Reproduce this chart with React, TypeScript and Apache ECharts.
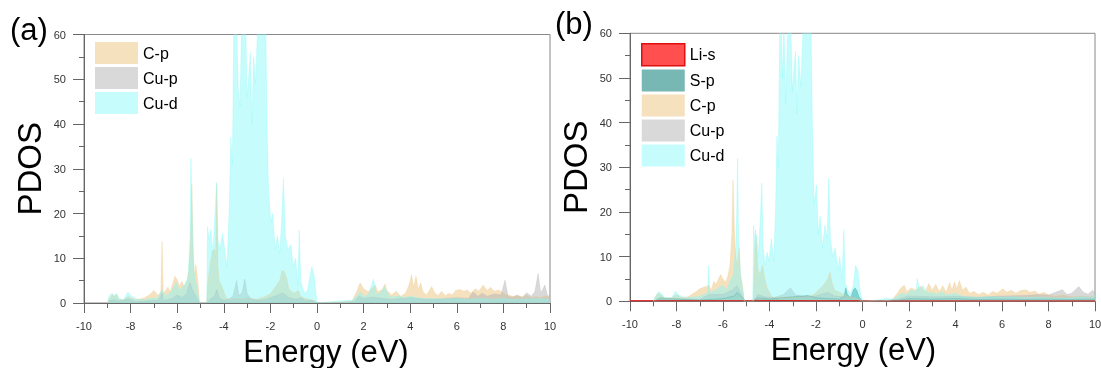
import React, { useEffect, useRef } from "react";
import * as echarts from "echarts";

// [energy (eV), PDOS] pairs
const aCp: number[][] = [
  [-9, 0], [-8.9, 1.0], [-8.8, 1.8], [-8.7, 1.5], [-8.6, 1.9], [-8.5, 0.8], [-8.3, 0.6], [-8.1, 1.5], [-8.0, 1.2],
  [-7.8, 0.8], [-7.6, 0.9], [-7.4, 1.2], [-7.2, 1.8], [-7.0, 2.8], [-6.9, 2.2], [-6.8, 1.6], [-6.7, 2.5], [-6.65, 13.8],
  [-6.6, 2.0], [-6.5, 2.8], [-6.4, 3.5], [-6.3, 2.5], [-6.2, 4.2], [-6.1, 6.0], [-6.0, 5.2], [-5.9, 3.8], [-5.8, 4.8],
  [-5.7, 3.6], [-5.6, 4.5], [-5.5, 7.0], [-5.42, 15], [-5.37, 26.5], [-5.31, 10], [-5.25, 6], [-5.2, 8.6], [-5.1, 4],
  [-5.04, 0], [-4.73, 0], [-4.7, 4], [-4.6, 8], [-4.5, 11.5], [-4.4, 12], [-4.35, 10], [-4.3, 26.5], [-4.25, 8],
  [-4.2, 5], [-4.1, 4], [-4.0, 2.5], [-3.9, 1.2], [-3.8, 0.8], [-3.5, 1.0], [-3.2, 0.9], [-3.0, 1.2], [-2.6, 0.8],
  [-2.2, 1.5], [-2.0, 2], [-1.8, 3.5], [-1.6, 5], [-1.5, 7.2], [-1.4, 7.0], [-1.3, 5.5], [-1.2, 3], [-1.0, 2.2],
  [-0.8, 2.8], [-0.7, 1.5], [-0.5, 1], [-0.3, 0.8], [-0.1, 0.5], [0, 0], [0.5, 0.1], [1.0, 0.2], [1.5, 0.4],
  [1.7, 2.5], [1.85, 4.5], [2.0, 3.2], [2.2, 2.5], [2.4, 3.5], [2.5, 4.0], [2.6, 2.5], [2.8, 3.0], [2.92, 4.3],
  [3.0, 2.8], [3.2, 1.8], [3.4, 2.6], [3.6, 1.5], [3.8, 2.2], [3.95, 4.0], [4.06, 6.3], [4.15, 3.5], [4.25, 6.0],
  [4.35, 3.0], [4.45, 4.5], [4.55, 2.5], [4.7, 1.8], [4.92, 3.7], [5.05, 2.3], [5.2, 1.7], [5.35, 2.6], [5.5, 1.6],
  [5.65, 2.2], [5.8, 1.8], [5.95, 2.8], [6.14, 3.0], [6.3, 2.6], [6.45, 2.9], [6.6, 2.2], [6.8, 3.2], [6.95, 2.6],
  [7.13, 4.0], [7.3, 2.8], [7.45, 3.5], [7.6, 2.6], [7.8, 2.9], [8.0, 2.2], [8.2, 1.8], [8.4, 1.5], [8.6, 1.6],
  [8.8, 1.4], [9.0, 1.8], [9.2, 1.2], [9.4, 1.5], [9.6, 1.2], [9.8, 1.6], [10, 1.3],
];

const aCup: number[][] = [
  [-9, 0], [-8.9, 0.5], [-8.7, 0.8], [-8.5, 0.4], [-8.1, 0.9], [-7.8, 0.3], [-7.2, 0.5], [-6.8, 0.6], [-6.65, 2.2],
  [-6.6, 0.5], [-6.2, 1.0], [-6.0, 1.8], [-5.8, 1.2], [-5.6, 2.0], [-5.45, 4.5], [-5.35, 3], [-5.2, 1.5], [-5.04, 0],
  [-4.73, 0], [-4.6, 0.8], [-4.4, 1.5], [-4.3, 3.0], [-4.2, 1.2], [-4.0, 0.6], [-3.8, 0.8], [-3.6, 1.5], [-3.45, 5.0],
  [-3.35, 1.5], [-3.2, 2.5], [-3.1, 5.3], [-3.0, 2], [-2.8, 0.8], [-2.5, 0.6], [-2.2, 0.8], [-2.0, 1.2], [-1.8, 1.5],
  [-1.5, 2.2], [-1.4, 2.0], [-1.2, 1.2], [-0.9, 0.8], [-0.7, 1.2], [-0.5, 0.5], [-0.2, 0.6], [0, 0], [1, 0.1],
  [1.6, 0.3], [1.8, 1.5], [2.0, 1.0], [2.4, 1.3], [2.8, 1.0], [3.2, 0.8], [3.6, 1.0], [4.0, 1.2], [4.5, 0.9],
  [5.0, 0.8], [5.5, 1.0], [6.0, 1.2], [6.5, 1.0], [6.7, 2.5], [6.9, 1.5], [7.1, 2.2], [7.3, 1.5], [7.6, 2.0],
  [7.9, 1.8], [8.07, 5.1], [8.2, 1.5], [8.4, 1.3], [8.6, 1.8], [8.8, 1.2], [9.0, 2.3], [9.2, 1.5], [9.35, 2.5],
  [9.49, 6.6], [9.6, 2.2], [9.78, 4.0], [9.9, 1.5], [10, 1.8],
];

const aCud: number[][] = [
  [-9, 0], [-8.92, 1.5], [-8.8, 2.2], [-8.7, 1.7], [-8.6, 2.1], [-8.5, 1.0], [-8.3, 0.8], [-8.12, 2.4], [-7.95, 1.5],
  [-7.7, 0.8], [-7.4, 0.7], [-7.1, 1.1], [-6.85, 1.0], [-6.66, 3.0], [-6.5, 1.5], [-6.25, 2.5], [-6.05, 4.5],
  [-5.9, 2.8], [-5.72, 3.8], [-5.55, 5.5], [-5.46, 12], [-5.41, 32.3], [-5.35, 18], [-5.28, 7], [-5.18, 4],
  [-5.1, 2], [-5.04, 0], [-4.73, 0], [-4.7, 17], [-4.62, 14], [-4.55, 16.5], [-4.47, 11], [-4.38, 20], [-4.31, 27],
  [-4.25, 14], [-4.17, 12], [-4.06, 15.5], [-3.96, 12], [-3.86, 8], [-3.76, 22], [-3.7, 37], [-3.63, 31],
  [-3.57, 62], [-3.45, 62], [-3.38, 48], [-3.3, 44], [-3.24, 62], [-3.06, 62], [-3.0, 46], [-2.94, 50], [-2.86, 56],
  [-2.8, 40], [-2.72, 55], [-2.63, 49], [-2.55, 62], [-2.2, 62], [-2.14, 38], [-2.08, 25], [-1.98, 18], [-1.9, 20],
  [-1.8, 12], [-1.7, 15], [-1.6, 11], [-1.52, 18], [-1.44, 27.8], [-1.36, 15], [-1.25, 12], [-1.12, 13],
  [-1.02, 8], [-0.92, 10], [-0.82, 4], [-0.76, 16.3], [-0.7, 5], [-0.6, 3], [-0.5, 2], [-0.4, 3], [-0.3, 6],
  [-0.22, 8.1], [-0.12, 6], [0, 0], [0.5, 0.2], [1.0, 0.5], [1.5, 0.6], [1.7, 1.5], [1.85, 2.5], [2.0, 1.5],
  [2.2, 1.8], [2.42, 5.3], [2.55, 2], [2.7, 2.2], [2.9, 3.5], [3.1, 1.5], [3.3, 1.3], [3.5, 1.6], [3.7, 1.2],
  [4.0, 1.5], [4.3, 1.2], [4.6, 1.0], [5.0, 1.0], [5.5, 0.9], [6.0, 1.0], [6.5, 0.8], [7.0, 1.0], [7.5, 0.8],
  [8.0, 1.0], [8.5, 0.7], [9.0, 0.9], [9.5, 1.0], [10, 0.8],
];

const bLis: number[][] = [
  [-10, 0.15], [-9, 0.15], [-7, 0.15], [-5.05, 0.15], [-4.7, 0.2], [-2, 0.15], [0, 0.15], [1, 0.1], [5, 0.1], [10, 0.1],
];

const bSp: number[][] = [
  [-9, 0], [-8.7, 0.8], [-8, 0.5], [-7, 0.3], [-6, 0.6], [-5.5, 1.2], [-5.4, 2], [-5.1, 0.5], [-5.05, 0],
  [-4.7, 0], [-4.5, 0.8], [-4, 0.5], [-3.5, 0.8], [-3.0, 1.0], [-2.6, 1.2], [-2.35, 1.3], [-2, 0.8], [-1.5, 0.6],
  [-1, 0.5], [-0.8, 1], [-0.72, 3.0], [-0.65, 1.5], [-0.5, 0.8], [-0.4, 2.5], [-0.32, 3.0], [-0.25, 2.5],
  [-0.15, 1], [0, 0], [1.5, 0.2], [2, 0.6], [3, 0.5], [4, 0.6], [5, 0.4], [6, 0.5], [7, 0.4], [8, 0.5], [9, 0.4],
  [10, 0.5],
];

const bCp: number[][] = [
  [-9, 0], [-8.9, 1], [-8.8, 1.8], [-8.7, 1.5], [-8.5, 0.7], [-8.2, 0.8], [-8.0, 1.5], [-7.8, 0.8], [-7.5, 1.0],
  [-7.2, 2.0], [-7.0, 2.8], [-6.8, 3.2], [-6.6, 3.5], [-6.5, 2.5], [-6.4, 4.5], [-6.3, 3.8], [-6.1, 6.0],
  [-6.0, 5.0], [-5.9, 4.2], [-5.8, 5.5], [-5.7, 8], [-5.62, 15], [-5.57, 27.2], [-5.5, 14], [-5.45, 10],
  [-5.4, 8], [-5.3, 12], [-5.25, 6], [-5.15, 3], [-5.08, 0], [-4.7, 0], [-4.65, 8], [-4.6, 16], [-4.55, 12],
  [-4.5, 7], [-4.4, 6], [-4.3, 8], [-4.2, 5], [-4.1, 3], [-4.0, 2], [-3.9, 1], [-3.6, 0.8], [-3.2, 1],
  [-2.8, 0.8], [-2.4, 1.0], [-2.1, 1.5], [-1.9, 2.5], [-1.7, 3.5], [-1.5, 5.0], [-1.4, 6.5], [-1.3, 4],
  [-1.2, 2.5], [-1, 2], [-0.8, 1.5], [-0.6, 1], [-0.3, 0.8], [0, 0], [1, 0.1], [1.3, 0.5], [1.5, 1.8],
  [1.65, 3], [1.8, 3.6], [1.9, 2.2], [2.1, 3.0], [2.3, 2.5], [2.5, 3.4], [2.7, 2.0], [2.85, 4.0], [3.0, 2.5],
  [3.15, 3.8], [3.3, 2.2], [3.45, 3.5], [3.6, 2.0], [3.75, 4.2], [3.85, 2.5], [3.96, 4.4], [4.05, 2.8],
  [4.17, 4.6], [4.3, 2.5], [4.45, 3.2], [4.6, 1.8], [4.8, 2.2], [5.0, 1.5], [5.2, 2.0], [5.4, 1.4], [5.6, 2.2],
  [5.8, 1.8], [6.03, 2.8], [6.2, 2.0], [6.4, 2.5], [6.6, 1.8], [6.8, 2.4], [7.03, 2.6], [7.2, 2.0], [7.4, 2.3],
  [7.6, 1.6], [7.8, 2.0], [8.0, 1.4], [8.3, 1.2], [8.6, 1.4], [9.0, 1.0], [9.4, 1.2], [9.8, 1.0], [10, 1.2],
];

const bCup: number[][] = [
  [-9, 0], [-8.7, 0.5], [-8, 0.6], [-7, 0.4], [-6.6, 1.5], [-6, 1.5], [-5.6, 2.5], [-5.4, 3.5], [-5.2, 1.5],
  [-5.08, 0], [-4.7, 0], [-4.5, 1.5], [-4.2, 1], [-3.8, 0.8], [-3.4, 1.5], [-3.1, 3.0], [-2.9, 1.5], [-2.5, 1.0],
  [-2.0, 1.2], [-1.5, 2.0], [-1.2, 1.2], [-0.8, 1.0], [-0.4, 0.8], [0, 0], [1, 0.1], [1.5, 0.5], [2, 1.2],
  [3, 1.0], [4, 1.1], [5, 0.9], [6, 1.2], [7, 1.3], [7.5, 1.5], [8, 1.4], [8.3, 2.0], [8.6, 2.6], [8.8, 1.5],
  [9.0, 1.8], [9.3, 3.3], [9.5, 2.0], [9.7, 1.6], [9.9, 2.5], [10, 1.8],
];

const bCud: number[][] = [
  [-9, 0], [-8.9, 1.2], [-8.75, 2.2], [-8.6, 1.5], [-8.5, 0.8], [-8.2, 0.8], [-8.05, 2.3], [-7.9, 1.4],
  [-7.6, 0.8], [-7.3, 0.9], [-7.0, 1.2], [-6.8, 1.5], [-6.66, 2], [-6.62, 8], [-6.57, 2], [-6.4, 2.2],
  [-6.2, 3], [-6.0, 3.5], [-5.85, 2.5], [-5.7, 4.5], [-5.55, 6], [-5.45, 12], [-5.41, 19.5], [-5.37, 32],
  [-5.33, 14], [-5.25, 6], [-5.15, 2.5], [-5.08, 0], [-4.72, 0], [-4.68, 17], [-4.62, 11], [-4.55, 15],
  [-4.48, 10], [-4.4, 18], [-4.33, 26.5], [-4.28, 13], [-4.2, 8], [-4.1, 11], [-4.02, 9], [-3.92, 14],
  [-3.82, 9], [-3.74, 20], [-3.68, 37], [-3.62, 30], [-3.56, 62], [-3.5, 62], [-3.44, 50], [-3.38, 62],
  [-3.3, 44], [-3.22, 62], [-3.08, 62], [-3.02, 47], [-2.95, 52], [-2.88, 56], [-2.82, 42], [-2.75, 55],
  [-2.65, 48], [-2.55, 62], [-2.22, 62], [-2.15, 38], [-2.08, 22], [-1.98, 26], [-1.9, 15], [-1.82, 19],
  [-1.72, 12], [-1.62, 17], [-1.52, 14], [-1.45, 27.5], [-1.38, 14], [-1.28, 10], [-1.18, 12], [-1.05, 7],
  [-0.98, 10], [-0.88, 5], [-0.8, 16], [-0.74, 4], [-0.62, 2.5], [-0.52, 1.5], [-0.4, 3.5], [-0.3, 8],
  [-0.2, 7], [-0.1, 2], [0, 0], [0.5, 0.2], [1.0, 0.6], [1.3, 0.5], [1.5, 1.2], [1.7, 1.8], [1.9, 1.5],
  [2.1, 2.5], [2.3, 2.2], [2.36, 5.1], [2.45, 2.5], [2.6, 3.5], [2.8, 1.8], [3.0, 2.0], [3.2, 1.5], [3.4, 2.2],
  [3.6, 1.4], [3.8, 1.6], [4.0, 1.8], [4.2, 1.3], [4.5, 1.0], [5.0, 0.9], [5.5, 1.1], [6.0, 0.9], [6.5, 1.0],
  [7.0, 0.8], [7.5, 0.9], [8.0, 0.8], [8.5, 0.7], [9.0, 0.8], [9.5, 1.0], [9.8, 0.8], [10, 1.6],
];

const xTicksMin = -10;
const xTicksMax = 10;
const yTicksMax = 60;
const panelLabels = ["(a)", "(b)"];
const legendA = ["C-p", "Cu-p", "Cu-d"];
const legendB = ["Li-s", "S-p", "C-p", "Cu-p", "Cu-d"];

const FONT = 'Arial, "Liberation Sans", sans-serif';

const STYLE: Record<string, { color: string; opacity: number; legend: string; border?: string }> = {
  "Li-s": { color: "#FF2A2A", opacity: 0.85, legend: "rgba(255,60,60,0.9)", border: "#E01010" },
  "S-p": { color: "#3E9A94", opacity: 0.7, legend: "rgba(62,154,148,0.7)" },
  "C-p": { color: "#EFC98A", opacity: 0.55, legend: "rgba(239,201,138,0.55)" },
  "Cu-p": { color: "#B4B4B4", opacity: 0.5, legend: "rgba(180,180,180,0.5)" },
  "Cu-d": { color: "#80F8F8", opacity: 0.45, legend: "rgba(128,248,248,0.45)" },
};

function makeSeries(name: string, data: number[][], idx: number) {
  const s = STYLE[name];
  const isLi = name === "Li-s";
  return {
    type: "line",
    name,
    xAxisIndex: idx,
    yAxisIndex: idx,
    data,
    symbol: "none",
    smooth: false,
    clip: true,
    itemStyle: { color: s.color },
    lineStyle: isLi
      ? { color: s.border, width: 1, opacity: 0.9 }
      : { color: s.color, width: 0.6, opacity: 0.5 },
    areaStyle: { color: s.color, opacity: s.opacity },
  };
}

function makeX(idx: number, namePad: number[]) {
  return {
    type: "value",
    gridIndex: idx,
    min: xTicksMin,
    max: xTicksMax,
    interval: 2,
    axisLine: { show: true, onZero: false, lineStyle: { color: "#666", width: 1 } },
    axisTick: { show: true, length: 10, lineStyle: { color: "#666" } },
    minorTick: { show: true, splitNumber: 2, length: 5, lineStyle: { color: "#666" } },
    splitLine: { show: false },
    minorSplitLine: { show: false },
    axisLabel: { fontSize: 11, color: "#333", margin: 17, fontFamily: FONT },
    name: "Energy (eV)",
    nameLocation: "middle",
    nameGap: 17,
    nameTextStyle: { fontSize: 31, color: "#000", fontFamily: FONT, padding: namePad },
  };
}

function makeY(idx: number) {
  return {
    type: "value",
    gridIndex: idx,
    min: 0,
    max: yTicksMax,
    interval: 10,
    axisLine: { show: true, onZero: false, lineStyle: { color: "#666", width: 1 } },
    axisTick: { show: true, length: 11, lineStyle: { color: "#666" } },
    minorTick: { show: true, splitNumber: 2, length: 5, lineStyle: { color: "#666" } },
    splitLine: { show: false },
    minorSplitLine: { show: false },
    axisLabel: { fontSize: 11, color: "#333", margin: 18, fontFamily: FONT },
    name: "PDOS",
    nameLocation: "middle",
    nameGap: 38,
    nameRotate: 90,
    nameTextStyle: { fontSize: 33, color: "#000", fontFamily: FONT },
  };
}

function makeLegend(names: string[], left: number, top: number) {
  return {
    orient: "vertical",
    left,
    top,
    padding: 0,
    itemWidth: 43,
    itemHeight: 22,
    itemGap: 3,
    icon: "rect",
    selectedMode: false,
    textStyle: { fontSize: 16, color: "#000", fontFamily: FONT },
    data: names.map((n) => ({
      name: n,
      icon: "rect",
      itemStyle: {
        color: STYLE[n].legend,
        borderColor: STYLE[n].border || "transparent",
        borderWidth: STYLE[n].border ? 1.5 : 0,
      },
    })),
  };
}

export default function App() {
  const ref = useRef<HTMLDivElement>(null);
  useEffect(() => {
    if (!ref.current) return;
    const chart = echarts.init(ref.current, undefined, { renderer: "svg" });
    const gridCommon = {
      show: true,
      borderColor: "#888",
      borderWidth: 1,
      backgroundColor: "transparent",
      outerBoundsMode: "none",
    };
    chart.setOption({
      animation: false,
      title: [
        { text: panelLabels[0], left: 10, top: 14, padding: 0, textStyle: { fontSize: 31, fontWeight: "normal", color: "#000", fontFamily: FONT } },
        { text: panelLabels[1], left: 555, top: 8, padding: 0, textStyle: { fontSize: 31, fontWeight: "normal", color: "#000", fontFamily: FONT } },
      ],
      grid: [
        { ...gridCommon, left: 84, top: 34.5, width: 466, height: 268.5 },
        { ...gridCommon, left: 630, top: 33.3, width: 465, height: 268 },
      ],
      xAxis: [makeX(0, [0, 0, 0, 18]), makeX(1, [0, 18, 0, 0])],
      yAxis: [makeY(0), makeY(1)],
      legend: [makeLegend(legendA, 95, 42), makeLegend(legendB, 641, 43)],
      series: [
        makeSeries("C-p", aCp, 0),
        makeSeries("Cu-p", aCup, 0),
        makeSeries("Cu-d", aCud, 0),
        makeSeries("Li-s", bLis, 1),
        makeSeries("S-p", bSp, 1),
        makeSeries("C-p", bCp, 1),
        makeSeries("Cu-p", bCup, 1),
        makeSeries("Cu-d", bCud, 1),
      ],
    });
    return () => chart.dispose();
  }, []);
  return (
    <div
      ref={ref}
      style={{ position: "fixed", left: 0, top: 0, width: 1101, height: 368 }}
    />
  );
}
